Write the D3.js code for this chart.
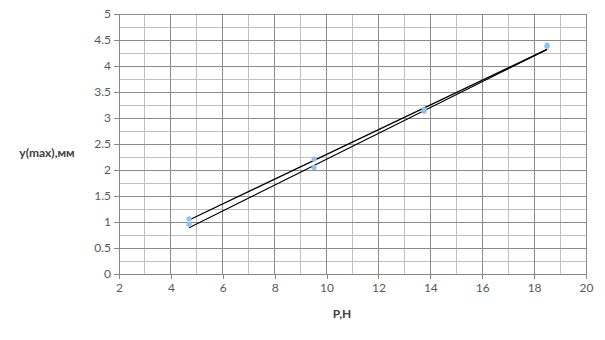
<!DOCTYPE html>
<html><head><meta charset="utf-8">
<script src="https://cdn.jsdelivr.net/npm/d3@7"></script>
<style>body{margin:0;background:#fff}svg{display:block}</style>
</head><body>
<svg id="c" width="605" height="340"></svg>
<script>
const xTicks = [2,4,6,8,10,12,14,16,18,20];
const yTicks = [0,0.5,1,1.5,2,2.5,3,3.5,4,4.5,5];
const seriesX = [4.7, 9.52, 13.76, 18.5];
const seriesA = [1.06, 2.21, 3.16, 4.40];
const seriesB = [0.955, 2.05, 3.13, 4.38];
const lineUpper = [[4.7, 1.04], [18.5, 4.32]];
const lineLower = [[4.7, 0.89], [18.5, 4.32]];
const xTitle = "P,H";
const yTitle = "y(max),мм";

const svg = d3.select("#c");
const pL = 119, pR = 586, pT = 14, pB = 274;
const x = d3.scaleLinear().domain([2,20]).range([pL,pR]);
const y = d3.scaleLinear().domain([0,5]).range([pB,pT]);
const font = "Lato, 'Open Sans', sans-serif";

// minor grid
const g = svg.append("g");
d3.range(3,20,2).forEach(v => g.append("line").attr("x1",x(v)).attr("x2",x(v)).attr("y1",y(0)).attr("y2",y(5)).attr("stroke","#c0c0c0").attr("stroke-width",1).attr("shape-rendering","crispEdges"));
d3.range(0.25,5,0.5).forEach(v => g.append("line").attr("x1",x(2)).attr("x2",x(20)).attr("y1",y(v)).attr("y2",y(v)).attr("stroke","#c0c0c0").attr("stroke-width",1).attr("shape-rendering","crispEdges"));
// major grid
xTicks.slice(1).forEach(v => g.append("line").attr("x1",x(v)).attr("x2",x(v)).attr("y1",y(0)).attr("y2",y(5)).attr("stroke","#8c8c8c").attr("stroke-width",1).attr("shape-rendering","crispEdges"));
yTicks.slice(1).forEach(v => g.append("line").attr("x1",x(2)).attr("x2",x(20)).attr("y1",y(v)).attr("y2",y(v)).attr("stroke","#8c8c8c").attr("stroke-width",1).attr("shape-rendering","crispEdges"));

// axes
const xa = svg.append("g").attr("transform",`translate(0,${y(0)})`)
  .call(d3.axisBottom(x).tickValues(xTicks).tickSize(5).tickPadding(4).tickFormat(d3.format("d")));
const ya = svg.append("g").attr("transform",`translate(${x(2)},0)`)
  .call(d3.axisLeft(y).tickValues(yTicks).tickSize(5).tickPadding(3).tickFormat(d => String(d)));
[xa,ya].forEach(a => {
  a.select(".domain").attr("stroke","#868686").attr("shape-rendering","crispEdges");
  a.selectAll(".tick line").attr("stroke","#868686").attr("shape-rendering","crispEdges");
  a.selectAll("text").attr("fill","#595959").style("font-family",font).style("font-size","12px");
});

// lines
const ln = d3.line().x(d=>x(d[0])).y(d=>y(d[1]));
[lineUpper,lineLower].forEach(l => svg.append("path").attr("d",ln(l)).attr("fill","none").attr("stroke","#000").attr("stroke-width",1.2));

// points
[seriesA,seriesB].forEach(s => {
  svg.append("g").selectAll("circle").data(seriesX.map((v,i)=>[v,s[i]])).join("circle")
    .attr("cx",d=>x(d[0])).attr("cy",d=>y(d[1])).attr("r",2.6).attr("fill","#8fc1f0");
});

// titles
svg.append("text").attr("x",342).attr("y",318).attr("text-anchor","middle")
  .attr("fill","#404040").style("font-family",font).style("font-size","12px").style("font-weight","bold").text(xTitle);
svg.append("text").attr("x",47).attr("y",157).attr("text-anchor","middle")
  .attr("fill","#404040").style("font-family",font).style("font-size","12px").style("font-weight","bold").text(yTitle);
</script>
</body></html>
